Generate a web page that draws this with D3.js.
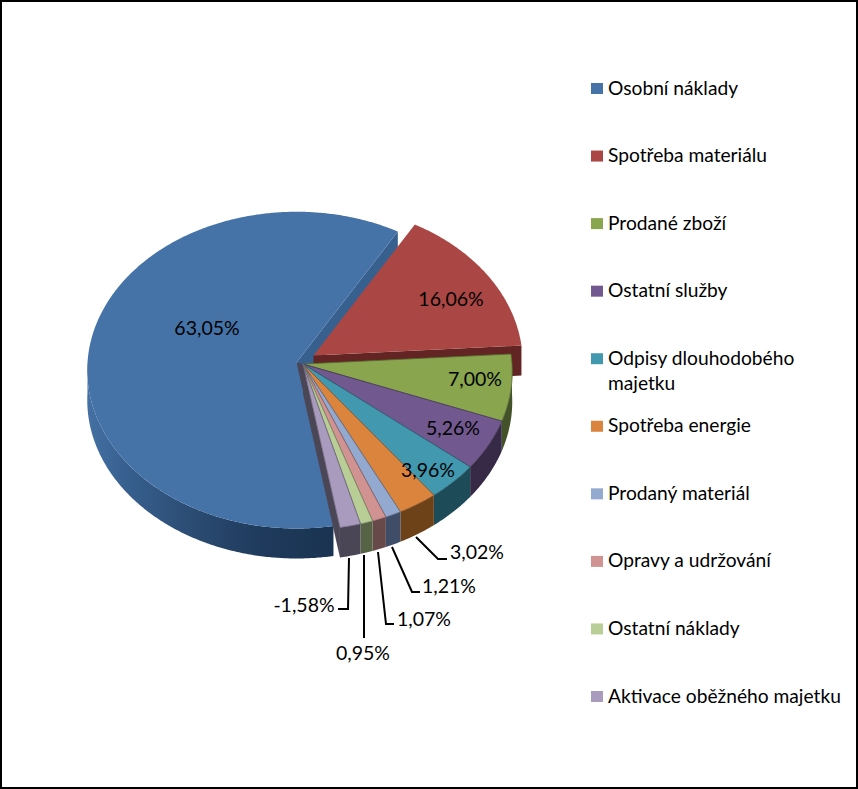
<!DOCTYPE html>
<html><head><meta charset="utf-8">
<script src="https://cdn.jsdelivr.net/npm/d3@7"></script>
<style>html,body{margin:0;padding:0;background:#fff}svg{display:block}text{font-family:Lato,"Open Sans",sans-serif;fill:#000}</style>
</head><body><svg id="c" width="858" height="789"></svg>
<script>
const categories = ["Osobní náklady","Spotřeba materiálu","Prodané zboží","Ostatní služby","Odpisy dlouhodobého majetku","Spotřeba energie","Prodaný materiál","Opravy a udržování","Ostatní náklady","Aktivace oběžného majetku"];
const values = [63.05,16.06,7.00,5.26,3.96,3.02,1.21,1.07,0.95,-1.58];
const topColors = ["#4573a7","#aa4643","#89a54e","#71588f","#4198af","#db843d","#93a9cf","#d19392","#b9cd96","#a99bbd"];
const sideColors = ["#1f3a5c","#632523","#44522a","#362a47","#1d4c58","#6e4218","#3f4d68","#68494a","#566344","#4b4656"];
const legendLines = [["Osobní náklady"],["Spotřeba materiálu"],["Prodané zboží"],["Ostatní služby"],["Odpisy dlouhodobého","majetku"],["Spotřeba energie"],["Prodaný materiál"],["Opravy a udržování"],["Ostatní náklady"],["Aktivace oběžného majetku"]];
// label centres
const labelPos = [[207,327],[451,298],[475,378],[453,427],[428,469],[477,551],[449,585],[424,618],[363,652],[304,604]];
// leader polylines, starting just below the rim
const leaders = {5:[[416,537],[438,559],[447,559]],6:[[392,547],[412,592],[420,592]],7:[[378,552],[386,624],[394,624]],8:[[364,555],[364,638]],9:[[349,558],[348,609],[338,609]]};

const fmt = v => v.toFixed(2).replace(".",",")+"%";
const rx = 209, ry = 158, depth = 30, persp = 0.048;
const origin = [303,364];
const offsets = {0:[-6.5,-1.5],1:[10.5,-8.5]};
const deg = Math.PI/180;

const svg = d3.select("#c");
svg.append("rect").attr("x",1).attr("y",1).attr("width",856).attr("height",787).attr("fill","#fff").attr("stroke","#000").attr("stroke-width",2);

const pie = d3.pie().sort(null).value(v=>Math.abs(v)).startAngle(170.3*deg).endAngle((170.3+360)*deg);
const arcs = pie(values).map((a,i)=>{
  const wrap = i>0 ? 2*Math.PI : 0;
  return {i,o:offsets[i]||[0,0],startAngle:a.startAngle-wrap,endAngle:a.endAngle-wrap};
});

const defs = svg.append("defs");
const grad = defs.append("linearGradient").attr("id","blueSide").attr("gradientUnits","userSpaceOnUse").attr("x1",88).attr("x2",335).attr("y1",0).attr("y2",0);
[[0,"#4470a3"],[0.15,"#37608f"],[0.45,"#2a4a70"],[0.7,"#1f3a5c"],[1,"#1a3351"]].forEach(s=>grad.append("stop").attr("offset",s[0]).attr("stop-color",s[1]));

// perspective projection of a rim point at clockwise angle t from the back of the disc
const project = (t,o,d=0)=>{
  const X=Math.sin(t), Y=Math.cos(t), w=1+persp*Y;
  return [origin[0]+o[0]+rx*X/w, origin[1]+o[1]-ry*Y/w+d];
};
const sweep = (s,e)=>{const n=Math.max(2,Math.ceil((e-s)/deg)*2);return d3.range(n+1).map(k=>s+(e-s)*k/n);};

function wallFace(a,ang,fill){
  const p=project(ang,a.o), c=[origin[0]+a.o[0],origin[1]+a.o[1]];
  svg.append("path").attr("d",d3.line()([c,p,[p[0],p[1]+depth],[c[0],c[1]+depth]])+"Z").attr("fill",fill);
}
function sideFace(a,fill){
  const s=Math.max(a.startAngle,90*deg), e=Math.min(a.endAngle,270*deg);
  if(e<=s) return;
  svg.append("path").attr("d",d3.area().x(t=>project(t,a.o)[0]).y0(t=>project(t,a.o)[1]).y1(t=>project(t,a.o,depth)[1])(sweep(s,e))).attr("fill",fill);
}
function topFace(a,stroke){
  const c=[origin[0]+a.o[0],origin[1]+a.o[1]];
  const pts=[c,...sweep(a.startAngle,a.endAngle).map(t=>project(t,a.o))];
  svg.append("path").attr("d",d3.line()(pts)+"Z").attr("fill",topColors[a.i])
    .attr("stroke",stroke||"none").attr("stroke-width",stroke?0.8:0).attr("stroke-linejoin","round");
}
// back to front
wallFace(arcs[0],arcs[0].endAngle,"#38608f");
sideFace(arcs[0],"url(#blueSide)");
// the dark gap between the exploded blue slice and the rest of the pie
const blueApex=[origin[0]+offsets[0][0],origin[1]+offsets[0][1]];
svg.append("path").attr("d",d3.line()([blueApex,origin,[origin[0],origin[1]+depth],[blueApex[0],blueApex[1]+depth]])+"Z").attr("fill",sideColors[9]);
topFace(arcs[0]);
wallFace(arcs[1],arcs[1].endAngle,sideColors[1]);
topFace(arcs[1]);
wallFace(arcs[9],arcs[9].endAngle,sideColors[9]);
arcs.slice(2).forEach(a=>sideFace(a,sideColors[a.i]));
arcs.slice(2).forEach(a=>topFace(a,d3.color(topColors[a.i]).darker(1.3).formatHex()));

// leaders
Object.values(leaders).forEach(pts=>svg.append("path").attr("d",d3.line()(pts)).attr("fill","none").attr("stroke","#000").attr("stroke-width",2));
// labels
values.forEach((v,i)=>svg.append("text").attr("x",labelPos[i][0]).attr("y",labelPos[i][1]).attr("text-anchor","middle").attr("dominant-baseline","central").attr("font-size",19.5).text(fmt(v)));

// legend
const rowY = d3.scalePoint().domain(categories).range([88,696]);
categories.forEach((c,i)=>{
  const y=rowY(c);
  svg.append("rect").attr("x",591).attr("y",y-5).attr("width",12).attr("height",11).attr("fill",topColors[i]);
  legendLines[i].forEach((t,k)=>svg.append("text").attr("x",608).attr("y",y-1+k*25.5).attr("dominant-baseline","central").attr("font-size",19.2).text(t));
});
</script></body></html>
